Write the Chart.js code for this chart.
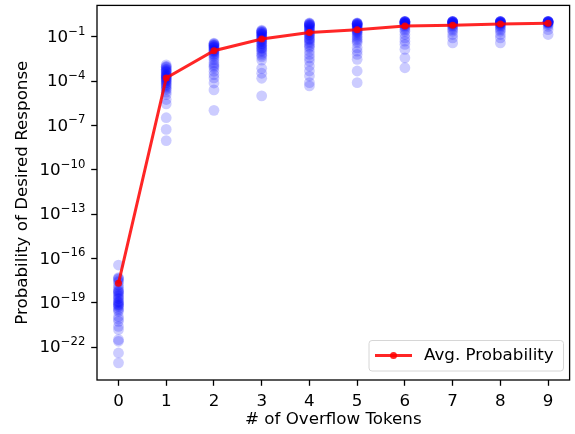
<!DOCTYPE html>
<html>
<head>
<meta charset="utf-8">
<script src="https://cdn.jsdelivr.net/npm/chart.js@4"></script>
<style>
  html, body { margin: 0; padding: 0; background: #fff; }
  #wrap { width: 575px; height: 434px; }
</style>
</head>
<body>
<div id="wrap"><canvas id="chart" width="575" height="434"></canvas></div>
<script>
// x categories: number of overflow tokens
const tokens = [0, 1, 2, 3, 4, 5, 6, 7, 8, 9];

// per-sample probabilities, stored as log10 exponents
const samples0 = [-16.45, -17.3, -17.35, -17.4, -17.53, -17.6, -17.8, -17.95, -18.1, -18.2, -18.25, -18.3, -18.4, -18.5, -18.59, -18.7, -18.75, -18.9, -18.95, -19.0, -19.1, -19.14, -19.2, -19.26, -19.4, -19.5, -19.59, -19.93, -20.1, -20.26, -20.6, -20.82, -21.5, -21.61, -22.4, -23.07];
const samples1 = [-2.9, -3.0, -3.05, -3.1, -3.2, -3.23, -3.3, -3.35, -3.4, -3.5, -3.57, -3.6, -3.65, -3.7, -3.75, -3.79, -3.85, -3.9, -3.95, -4.01, -4.1, -4.15, -4.24, -4.3, -4.4, -4.5, -4.58, -4.75, -4.91, -5.25, -5.54, -6.48, -7.27, -8.03];
const samples2 = [-1.44, -1.47, -1.5, -1.55, -1.58, -1.6, -1.66, -1.7, -1.72, -1.78, -1.85, -1.89, -1.95, -2.0, -2.05, -2.15, -2.22, -2.3, -2.4, -2.56, -2.75, -2.9, -3.0, -3.12, -3.34, -3.57, -3.79, -4.13, -4.6, -5.98];
const samples3 = [-0.56, -0.6, -0.62, -0.67, -0.7, -0.72, -0.78, -0.82, -0.85, -0.9, -0.95, -1.01, -1.05, -1.1, -1.18, -1.24, -1.3, -1.35, -1.46, -1.5, -1.58, -1.69, -1.75, -1.8, -1.91, -2.0, -2.13, -2.25, -2.36, -2.58, -3.14, -3.47, -3.81, -5.0];
const samples4 = [-0.07, -0.1, -0.12, -0.15, -0.18, -0.21, -0.24, -0.29, -0.33, -0.38, -0.45, -0.5, -0.55, -0.63, -0.7, -0.75, -0.85, -0.9, -0.95, -1.08, -1.15, -1.2, -1.3, -1.4, -1.52, -1.65, -1.75, -1.98, -2.2, -2.43, -2.65, -2.98, -3.32, -3.66, -4.11, -4.33];
const samples5 = [-0.07, -0.08, -0.1, -0.12, -0.14, -0.15, -0.18, -0.21, -0.24, -0.29, -0.35, -0.4, -0.45, -0.52, -0.58, -0.62, -0.7, -0.74, -0.85, -0.97, -1.08, -1.19, -1.3, -1.42, -1.75, -1.98, -2.2, -2.53, -3.32, -4.11];
const samples6 = [0.04, 0.03, 0.03, 0.02, 0.01, 0.0, -0.02, -0.04, -0.05, -0.07, -0.1, -0.12, -0.15, -0.18, -0.24, -0.3, -0.41, -0.52, -0.63, -0.85, -1.08, -1.3, -1.52, -1.86, -2.43, -3.1];
const samples7 = [0.04, 0.03, 0.03, 0.02, 0.01, 0.0, -0.02, -0.04, -0.05, -0.07, -0.1, -0.12, -0.18, -0.24, -0.3, -0.41, -0.52, -0.63, -0.85, -1.08, -1.42];
const samples8 = [0.04, 0.03, 0.03, 0.02, 0.01, 0.0, -0.02, -0.04, -0.05, -0.07, -0.1, -0.12, -0.18, -0.24, -0.3, -0.41, -0.52, -0.63, -0.85, -1.08, -1.42];
const samples9 = [0.04, 0.04, 0.03, 0.03, 0.02, 0.01, 0.0, -0.01, -0.02, -0.05, -0.07, -0.12, -0.18, -0.3, -0.52, -0.85];
const samplesByToken = [samples0, samples1, samples2, samples3, samples4, samples5, samples6, samples7, samples8, samples9];

// average probability per token count (log10)
const avgExp = [-17.69, -3.79, -1.95, -1.16, -0.71, -0.53, -0.28, -0.22, -0.14, -0.09];

// y tick exponents and axis limits (log10)
const yTickExps = [-22, -19, -16, -13, -10, -7, -4, -1];
const yMinExp = -24.23;
const yMaxExp = 1.12;

const FONT = 'DejaVu Sans';
const FS = 16.7;

const scatterPts = [];
samplesByToken.forEach((arr, i) => {
    arr.forEach(e => scatterPts.push({ x: tokens[i], y: Math.pow(10, e) }));
});
const avgPts = tokens.map((t, i) => ({ x: t, y: Math.pow(10, avgExp[i]) }));

// frame, y tick labels with superscripts, legend
const decor = {
    id: 'decor',
    afterDraw(chart) {
        const ctx = chart.ctx;
        const a = chart.chartArea;
        const ys = chart.scales.y;
        ctx.save();
        ctx.strokeStyle = '#000';
        ctx.lineWidth = 1.3;
        ctx.strokeRect(a.left, a.top, a.right - a.left, a.bottom - a.top);

        // y tick labels
        ctx.fillStyle = '#000';
        ctx.textBaseline = 'middle';
        ctx.textAlign = 'left';
        const rightEdge = a.left - 11.6;
        yTickExps.forEach(e => {
            const y = ys.getPixelForValue(Math.pow(10, e));
            const sup = '\u2212' + Math.abs(e);
            ctx.font = (FS * 0.7) + 'px "' + FONT + '"';
            const sw = ctx.measureText(sup).width;
            ctx.font = FS + 'px "' + FONT + '"';
            const bw = ctx.measureText('10').width;
            const x0 = rightEdge - sw - bw;
            ctx.fillText('10', x0, y + 1);
            ctx.font = (FS * 0.7) + 'px "' + FONT + '"';
            ctx.fillText(sup, x0 + bw, y - 5);
        });

        // legend
        const lx = 369, ly = 340.5, lw = 194.5, lh = 30.5;
        ctx.fillStyle = 'rgba(255,255,255,0.8)';
        ctx.strokeStyle = '#d6d6d6';
        ctx.lineWidth = 1;
        ctx.beginPath();
        ctx.roundRect(lx, ly, lw, lh, 3);
        ctx.fill();
        ctx.stroke();
        ctx.strokeStyle = 'rgba(255,0,0,0.85)';
        ctx.lineWidth = 3;
        ctx.beginPath();
        ctx.moveTo(375, 355.5);
        ctx.lineTo(412, 355.5);
        ctx.stroke();
        ctx.fillStyle = 'rgba(255,0,0,0.85)';
        ctx.beginPath();
        ctx.arc(393.5, 355.5, 3.5, 0, Math.PI * 2);
        ctx.fill();
        ctx.fillStyle = '#000';
        ctx.font = FS + 'px "' + FONT + '"';
        ctx.textBaseline = 'middle';
        ctx.fillText('Avg. Probability', 424, 356);
        ctx.restore();
    }
};

new Chart(document.getElementById('chart').getContext('2d'), {
    type: 'scatter',
    data: {
        datasets: [
            {
                type: 'line',
                label: 'Avg. Probability',
                data: avgPts,
                borderColor: 'rgba(255,0,0,0.85)',
                backgroundColor: 'rgba(255,0,0,0.85)',
                borderWidth: 3,
                pointRadius: 3.5,
                pointBorderWidth: 0,
                tension: 0,
                order: 0
            },
            {
                label: 'samples',
                data: scatterPts,
                backgroundColor: 'rgba(0,0,255,0.2)',
                borderWidth: 0,
                pointRadius: 5.4,
                order: 1
            }
        ]
    },
    options: {
        responsive: false,
        animation: false,
        layout: { padding: { left: 0, top: 2, right: 4, bottom: 0 } },
        plugins: {
            legend: { display: false },
            tooltip: { enabled: false }
        },
        scales: {
            x: {
                type: 'linear',
                min: -0.45,
                max: 9.45,
                afterBuildTicks: s => { s.ticks = tokens.map(v => ({ value: v })); },
                afterFit: s => { s.height = 54; },
                grid: { drawOnChartArea: false, drawTicks: true, tickLength: 5.8, tickColor: '#000', tickWidth: 1.3 },
                border: { display: false },
                ticks: { color: '#000', font: { family: FONT, size: FS }, padding: 6, maxRotation: 0 },
                title: { display: true, text: '# of Overflow Tokens', color: '#000', font: { family: FONT, size: FS }, padding: 4 }
            },
            y: {
                type: 'logarithmic',
                min: Math.pow(10, yMinExp),
                max: Math.pow(10, yMaxExp),
                afterBuildTicks: s => { s.ticks = yTickExps.map(e => ({ value: Math.pow(10, e) })); },
                afterFit: s => { s.width = 97; },
                grid: { drawOnChartArea: false, drawTicks: true, tickLength: 5.8, tickColor: '#000', tickWidth: 1.3 },
                border: { display: false },
                ticks: { display: false },
                title: { display: true, text: 'Probability of Desired Response', color: '#000', font: { family: FONT, size: FS }, padding: 12.7 }
            }
        }
    },
    plugins: [decor]
});
</script>
</body>
</html>
